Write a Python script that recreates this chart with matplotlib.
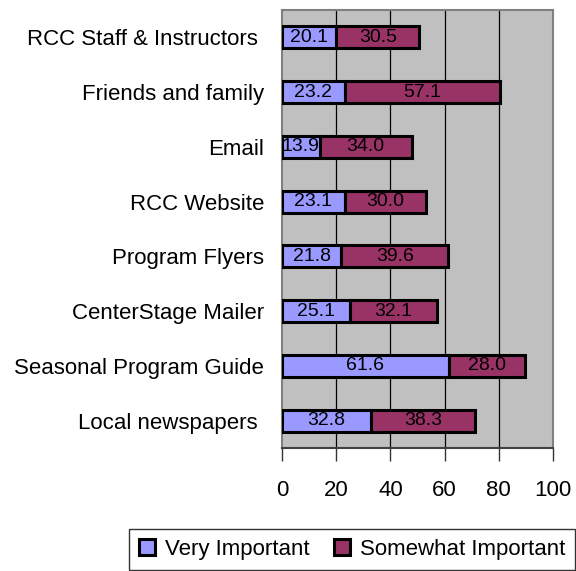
import matplotlib
matplotlib.use("Agg")
import matplotlib.pyplot as plt
import numpy as np

categories = ["RCC Staff & Instructors ", "Friends and family", "Email", "RCC Website",
              "Program Flyers", "CenterStage Mailer", "Seasonal Program Guide", "Local newspapers "]
very = [20.1, 23.2, 13.9, 23.1, 21.8, 25.1, 61.6, 32.8]
somewhat = [30.5, 57.1, 34.0, 30.0, 39.6, 32.1, 28.0, 38.3]
xticks = [0, 20, 40, 60, 80, 100]

plt.rcParams['font.family'] = ['Liberation Sans', 'DejaVu Sans']

fig = plt.figure(figsize=(5.76, 5.71), dpi=100)
ax = fig.add_axes([282/576, 1-448/571, (553-282)/576, (448-10)/571])
ax.set_facecolor('#C0C0C0')

n = len(categories)
y = np.arange(n)[::-1]
h = 0.4
b1 = ax.barh(y, very, height=h, color='#9999FF', edgecolor='black', linewidth=2.2, label='Very Important', zorder=3)
b2 = ax.barh(y, somewhat, left=very, height=h, color='#993366', edgecolor='black', linewidth=2.2, label='Somewhat Important', zorder=3)
for yi, v, s in zip(y, very, somewhat):
    ax.text(v/2, yi, f"{v:.1f}", ha='center', va='center', fontsize=14, zorder=4)
    ax.text(v + s/2, yi, f"{s:.1f}", ha='center', va='center', fontsize=14, zorder=4)

ax.set_xlim(0, 100)
ax.set_ylim(-0.5, n-0.5)
ax.set_xticks(xticks)
ax.set_xticklabels([str(t) for t in xticks], fontsize=16)
ax.set_yticks(y)
ax.set_yticklabels(categories, fontsize=16)
ax.tick_params(axis='y', length=0, pad=13)
ax.tick_params(axis='x', length=9, width=1, color='#333333', pad=14, direction='out')
for xv in xticks[1:-1]:
    ax.axvline(xv, color='black', linewidth=0.9, zorder=1)
for sp in ax.spines.values():
    sp.set_color('#808080')
    sp.set_linewidth(1.5)
ax.spines['bottom'].set_color('#404040')

leg = fig.legend(handles=[b1, b2], loc='lower right', bbox_to_anchor=(575/576, 1/571),
                 ncol=2, fontsize=16, frameon=True, fancybox=False, edgecolor='black',
                 handlelength=0.7, handleheight=0.7, handletextpad=0.45, columnspacing=1.1,
                 borderpad=0.45, borderaxespad=0)
leg.get_frame().set_linewidth(1.0)

fig.savefig("out.png", dpi=100)
